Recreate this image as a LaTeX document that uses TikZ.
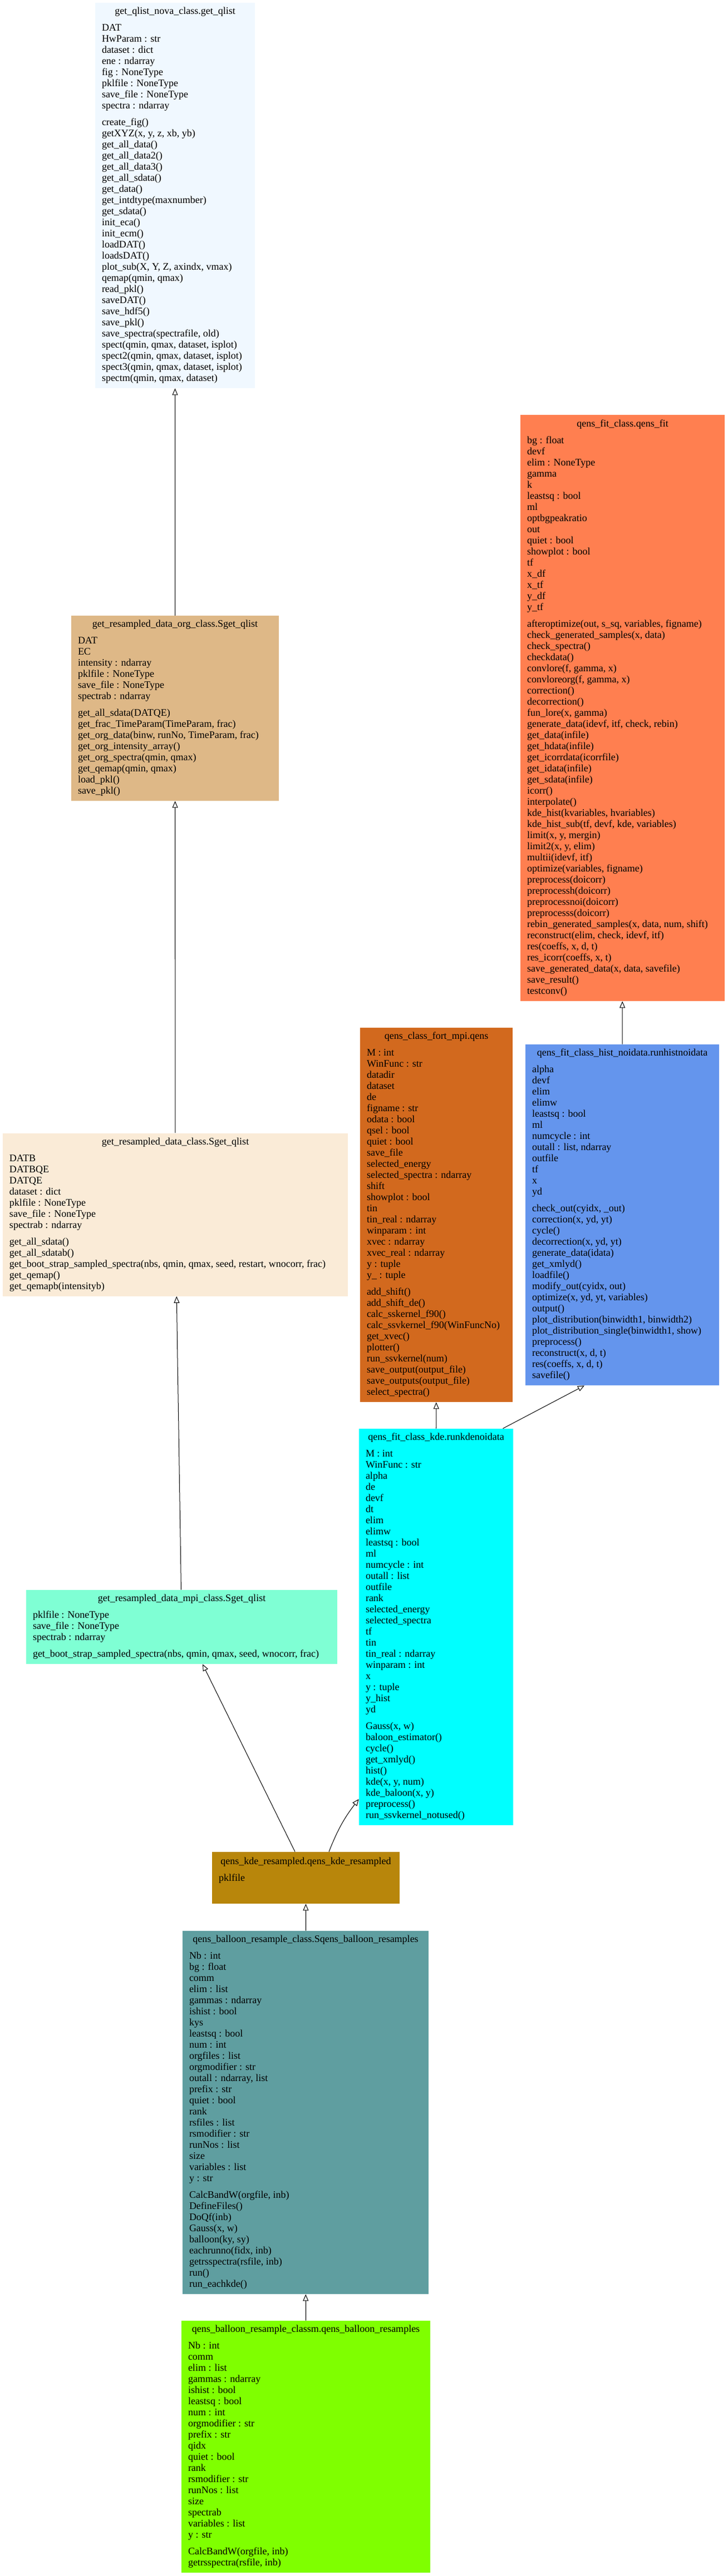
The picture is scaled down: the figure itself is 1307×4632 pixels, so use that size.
\documentclass[tikz,border=0pt]{standalone}
\usepackage{fontspec}
\setmainfont{Liberation Serif}
\usetikzlibrary{arrows.meta}

\definecolor{aliceblue}{HTML}{F0F8FF}
\definecolor{burlywood}{HTML}{DEB887}
\definecolor{coral}{HTML}{FF7F50}
\definecolor{chocolate}{HTML}{D2691E}
\definecolor{cornflower}{HTML}{6495ED}
\definecolor{antiquewhite}{HTML}{FAEBD7}
\definecolor{cyanx}{HTML}{00FFFF}
\definecolor{aquamarine}{HTML}{7FFFD4}
\definecolor{goldenrod}{HTML}{B8860B}
\definecolor{cadetblue}{HTML}{5F9EA0}
\definecolor{chartreuse}{HTML}{7FFF00}

% centred class title
\newcommand{\ttl}[2]{\makebox[#1][c]{#2}}

\begin{document}
\begin{tikzpicture}[x=0.5pt,y=-0.5pt]
  \useasboundingbox (0,0) rectangle (1307,4632);

  \begin{scope}[every node/.style={rectangle,inner xsep=6pt,inner ysep=0pt,align=left,
      font=\fontsize{9}{10}\selectfont}]
    \node[fill=aliceblue,minimum height=346.5pt] (qlist) at (314.5,351.5) {\ttl{131.5pt}{get\_qlist\_nova\_class.get\_qlist}\\[5pt]
      DAT\\ HwParam : str\\ dataset : dict\\ ene : ndarray\\ fig : NoneType\\ pklfile : NoneType\\ save\_file : NoneType\\ spectra : ndarray\\[5pt]
      create\_fig()\\ getXYZ(x, y, z, xb, yb)\\ get\_all\_data()\\ get\_all\_data2()\\ get\_all\_data3()\\ get\_all\_sdata()\\ get\_data()\\
      get\_intdtype(maxnumber)\\ get\_sdata()\\ init\_eca()\\ init\_ecm()\\ loadDAT()\\ loadsDAT()\\ plot\_sub(X, Y, Z, axindx, vmax)\\
      qemap(qmin, qmax)\\ read\_pkl()\\ saveDAT()\\ save\_hdf5()\\ save\_pkl()\\ save\_spectra(spectrafile, old)\\
      spect(qmin, qmax, dataset, isplot)\\ spect2(qmin, qmax, dataset, isplot)\\ spect3(qmin, qmax, dataset, isplot)\\ spectm(qmin, qmax, dataset)};

    \node[fill=burlywood,minimum height=166.5pt] (org) at (314.5,1273.5) {\ttl{174.5pt}{get\_resampled\_data\_org\_class.Sget\_qlist}\\[5pt]
      DAT\\ EC\\ intensity : ndarray\\ pklfile : NoneType\\ save\_file : NoneType\\ spectrab : ndarray\\[5pt]
      get\_all\_sdata(DATQE)\\ get\_frac\_TimeParam(TimeParam, frac)\\ get\_org\_data(binw, runNo, TimeParam, frac)\\
      get\_org\_intensity\_array()\\ get\_org\_spectra(qmin, qmax)\\ get\_qemap(qmin, qmax)\\ load\_pkl()\\ save\_pkl()};

    \node[fill=coral,minimum height=527pt] (fit) at (1118.5,1273) {\ttl{171.5pt}{qens\_fit\_class.qens\_fit}\\[5pt]
      bg : float\\ devf\\ elim : NoneType\\ gamma\\ k\\ leastsq : bool\\ ml\\ optbgpeakratio\\ out\\ quiet : bool\\ showplot : bool\\
      tf\\ x\_df\\ x\_tf\\ y\_df\\ y\_tf\\[5pt]
      afteroptimize(out, s\_sq, variables, figname)\\ check\_generated\_samples(x, data)\\ check\_spectra()\\ checkdata()\\
      convlore(f, gamma, x)\\ convloreorg(f, gamma, x)\\ correction()\\ decorrection()\\ fun\_lore(x, gamma)\\
      generate\_data(idevf, itf, check, rebin)\\ get\_data(infile)\\ get\_hdata(infile)\\ get\_icorrdata(icorrfile)\\
      get\_idata(infile)\\ get\_sdata(infile)\\ icorr()\\ interpolate()\\ kde\_hist(kvariables, hvariables)\\
      kde\_hist\_sub(tf, devf, kde, variables)\\ limit(x, y, mergin)\\ limit2(x, y, elim)\\ multii(idevf, itf)\\
      optimize(variables, figname)\\ preprocess(doicorr)\\ preprocessh(doicorr)\\ preprocessnoi(doicorr)\\ preprocesss(doicorr)\\
      rebin\_generated\_samples(x, data, num, shift)\\ reconstruct(elim, check, idevf, itf)\\ res(coeffs, x, d, t)\\
      res\_icorr(coeffs, x, t)\\ save\_generated\_data(x, data, savefile)\\ save\_result()\\ testconv()};

    \node[fill=chocolate,minimum height=336.5pt] (fort) at (784,2184.5) {\ttl{125pt}{qens\_class\_fort\_mpi.qens}\\[5pt]
      M : int\\ WinFunc : str\\ datadir\\ dataset\\ de\\ figname : str\\ odata : bool\\ qsel : bool\\ quiet : bool\\ save\_file\\
      selected\_energy\\ selected\_spectra : ndarray\\ shift\\ showplot : bool\\ tin\\ tin\_real : ndarray\\ winparam : int\\
      xvec : ndarray\\ xvec\_real : ndarray\\ y : tuple\\ y\_ : tuple\\[5pt]
      add\_shift()\\ add\_shift\_de()\\ calc\_sskernel\_f90()\\ calc\_ssvkernel\_f90(WinFuncNo)\\ get\_xvec()\\ plotter()\\
      run\_ssvkernel(num)\\ save\_output(output\_file)\\ save\_outputs(output\_file)\\ select\_spectra()};

    \node[fill=cornflower,minimum height=306.5pt] (hist) at (1118,2184.5) {\ttl{162pt}{qens\_fit\_class\_hist\_noidata.runhistnoidata}\\[5pt]
      alpha\\ devf\\ elim\\ elimw\\ leastsq : bool\\ ml\\ numcycle : int\\ outall : list, ndarray\\ outfile\\ tf\\ x\\ yd\\[5pt]
      check\_out(cyidx, \_out)\\ correction(x, yd, yt)\\ cycle()\\ decorrection(x, yd, yt)\\ generate\_data(idata)\\
      get\_xmlyd()\\ loadfile()\\ modify\_out(cyidx, out)\\ optimize(x, yd, yt, variables)\\ output()\\
      plot\_distribution(binwidth1, binwidth2)\\ plot\_distribution\_single(binwidth1, show)\\ preprocess()\\
      reconstruct(x, d, t)\\ res(coeffs, x, d, t)\\ savefile()};

    \node[fill=antiquewhite,minimum height=146.5pt] (data) at (315,2184) {\ttl{298pt}{get\_resampled\_data\_class.Sget\_qlist}\\[5pt]
      DATB\\ DATBQE\\ DATQE\\ dataset : dict\\ pklfile : NoneType\\ save\_file : NoneType\\ spectrab : ndarray\\[5pt]
      get\_all\_sdata()\\ get\_all\_sdatab()\\ get\_boot\_strap\_sampled\_spectra(nbs, qmin, qmax, seed, restart, wnocorr, frac)\\
      get\_qemap()\\ get\_qemapb(intensityb)};

    \node[fill=cyanx,minimum height=356.5pt] (kde) at (783.5,2925.5) {\ttl{126.5pt}{qens\_fit\_class\_kde.runkdenoidata}\\[5pt]
      M : int\\ WinFunc : str\\ alpha\\ de\\ devf\\ dt\\ elim\\ elimw\\ leastsq : bool\\ ml\\ numcycle : int\\ outall : list\\
      outfile\\ rank\\ selected\_energy\\ selected\_spectra\\ tf\\ tin\\ tin\_real : ndarray\\ winparam : int\\ x\\ y : tuple\\
      y\_hist\\ yd\\[5pt]
      Gauss(x, w)\\ baloon\_estimator()\\ cycle()\\ get\_xmlyd()\\ hist()\\ kde(x, y, num)\\ kde\_baloon(x, y)\\
      preprocess()\\ run\_ssvkernel\_notused()};

    \node[fill=aquamarine,minimum height=66.5pt] (mpi) at (326.5,2925.5) {\ttl{267.5pt}{get\_resampled\_data\_mpi\_class.Sget\_qlist}\\[5pt]
      pklfile : NoneType\\ save\_file : NoneType\\ spectrab : ndarray\\[5pt]
      get\_boot\_strap\_sampled\_spectra(nbs, qmin, qmax, seed, wnocorr, frac)};

    \node[fill=goldenrod,minimum height=46.5pt] (kderes) at (549.5,3376.5) {\ttl{156.5pt}{qens\_kde\_resampled.qens\_kde\_resampled}\\[5pt]
      pklfile\\[5pt] \mbox{}};

    \node[fill=cadetblue,minimum height=326.5pt] (balloon) at (549,3798.5) {\ttl{209pt}{qens\_balloon\_resample\_class.Sqens\_balloon\_resamples}\\[5pt]
      Nb : int\\ bg : float\\ comm\\ elim : list\\ gammas : ndarray\\ ishist : bool\\ kys\\ leastsq : bool\\ num : int\\
      orgfiles : list\\ orgmodifier : str\\ outall : ndarray, list\\ prefix : str\\ quiet : bool\\ rank\\ rsfiles : list\\
      rsmodifier : str\\ runNos : list\\ size\\ variables : list\\ y : str\\[5pt]
      CalcBandW(orgfile, inb)\\ DefineFiles()\\ DoQf(inb)\\ Gauss(x, w)\\ balloon(ky, sy)\\ eachrunno(fidx, inb)\\
      getrsspectra(rsfile, inb)\\ run()\\ run\_eachkde()};

    \node[fill=chartreuse,minimum height=226.5pt] (classm) at (549.5,4399.5) {\ttl{211.5pt}{qens\_balloon\_resample\_classm.qens\_balloon\_resamples}\\[5pt]
      Nb : int\\ comm\\ elim : list\\ gammas : ndarray\\ ishist : bool\\ leastsq : bool\\ num : int\\ orgmodifier : str\\
      prefix : str\\ qidx\\ quiet : bool\\ rank\\ rsmodifier : str\\ runNos : list\\ size\\ spectrab\\ variables : list\\ y : str\\[5pt]
      CalcBandW(orgfile, inb)\\ getrsspectra(rsfile, inb)};
  \end{scope}

  \begin{scope}[every edge/.style={draw,line width=0.5pt,-{Triangle[open,length=6pt,width=5pt]}}]
    \path (org) edge (qlist);
    \path (data) edge (org);
    \path (mpi) edge (data);
    \path (hist) edge (fit);
    \path (kde) edge (fort);
    \path ([xshift=60pt]kde.north) edge ([xshift=-34pt]hist.south);
    \path ([xshift=-9.75pt]kderes.north) edge ([xshift=18.75pt]mpi.south);
    \path ([xshift=20.75pt]kderes.north) edge[bend left=8] ([yshift=-154.75pt]kde.west);
    \path (balloon) edge (kderes);
    \path (classm) edge (balloon);
  \end{scope}

\end{tikzpicture}
\end{document}
